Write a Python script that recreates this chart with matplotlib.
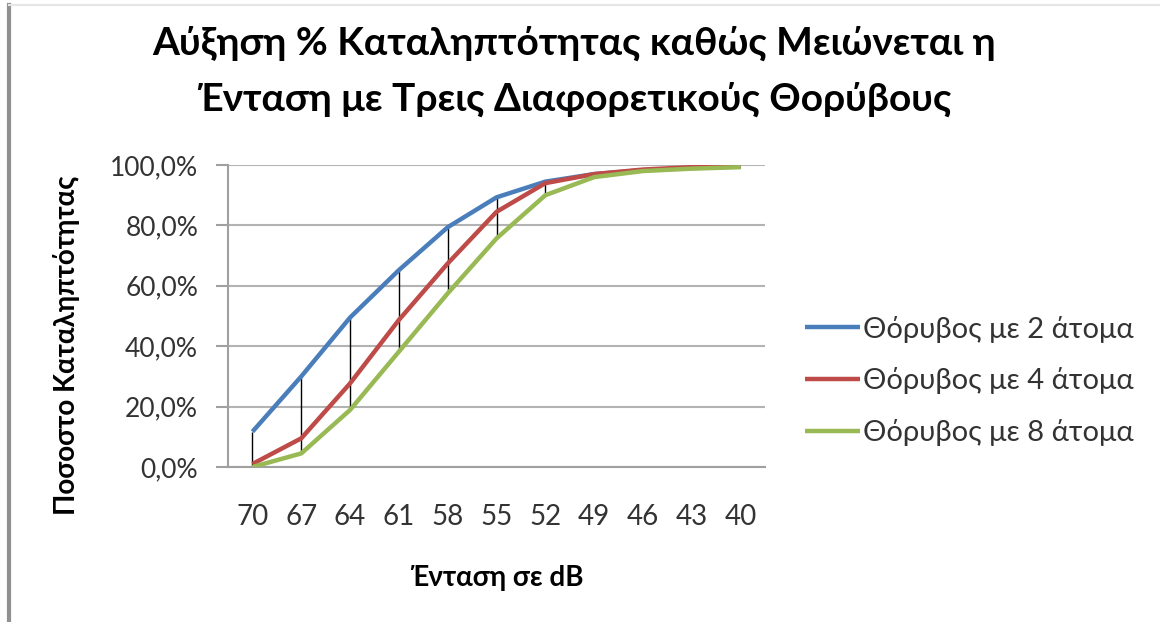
import matplotlib
matplotlib.use("Agg")
import matplotlib.pyplot as plt
from matplotlib.lines import Line2D
from matplotlib.ticker import FuncFormatter
import numpy as np

plt.rcParams['font.family'] = ['Lato', 'DejaVu Sans']

# intensity categories (dB) and detection rates (%)
intensity = ['70', '67', '64', '61', '58', '55', '52', '49', '46', '43', '40']
noise_2 = [11.7, 30.0, 49.5, 65.2, 79.4, 89.3, 94.5, 97.0, 98.3, 99.0, 99.5]
noise_4 = [1.0, 9.5, 27.7, 48.7, 67.4, 84.5, 94.0, 97.0, 98.5, 99.3, 99.5]
noise_8 = [0.0, 4.5, 18.9, 38.2, 57.5, 75.7, 90.0, 96.0, 98.0, 98.8, 99.3]
labels = ['Θόρυβος με 2 άτομα', 'Θόρυβος με 4 άτομα', 'Θόρυβος με 8 άτομα']
colors = ['#4A7EBB', '#BE4B48', '#98B954']

fig = plt.figure(figsize=(11.6, 6.22), dpi=100)
ax = fig.add_axes([0.1966, 0.2492, 0.4629, 0.4855])

x = np.arange(len(intensity))
series = [noise_2, noise_4, noise_8]

# high-low lines like Excel
allv = np.array(series)
ax.vlines(x, allv.min(axis=0), allv.max(axis=0), color='black', lw=1.0, zorder=2)

for vals, c, lab in zip(series, colors, labels):
    ax.plot(x, vals, color=c, lw=3.2, label=lab, zorder=3, solid_capstyle='butt')

ax.set_xlim(-0.5, len(intensity) - 0.5)
ax.set_ylim(0, 100)
ax.set_yticks(np.arange(0, 101, 20))
ax.yaxis.set_major_formatter(FuncFormatter(lambda v, p: f'{v:.1f}%'.replace('.', ',')))
ax.set_xticks(x)
ax.set_xticklabels(intensity)

ax.grid(axis='y', color='#b3b3b3', lw=1.5, zorder=0)
ax.set_axisbelow(True)
for s in ['top', 'right']:
    ax.spines[s].set_visible(False)
ax.spines['left'].set_color('#a0a0a0')
ax.spines['left'].set_linewidth(1.5)
ax.spines['bottom'].set_color('#a0a0a0')
ax.spines['bottom'].set_linewidth(1.5)
ax.tick_params(axis='y', direction='out', length=8.5, width=1.5, color='#a0a0a0',
               labelsize=19, labelcolor='#333333', pad=13)
ax.tick_params(axis='x', length=0, labelsize=20, labelcolor='#333333', pad=27)

ax.set_xlabel('Ένταση σε dB', fontsize=20, fontweight='bold', labelpad=25)
ax.set_ylabel('Ποσοστο Καταληπτότητας', fontsize=20, fontweight='bold')
ax.yaxis.set_label_coords(-0.275, 0.404)

fig.suptitle('Αύξηση % Καταληπτότητας καθώς Μειώνεται η\nΈνταση με Τρεις Διαφορετικούς Θορύβους',
             x=0.495, y=0.958, fontsize=28, fontweight='bold', linespacing=1.7)

fig.legend(loc='center left', bbox_to_anchor=(0.681, 0.3875), frameon=False, borderpad=0,
           fontsize=21, handlelength=1.9, handletextpad=0.1, labelspacing=0.85,
           labelcolor='#333333')

# chart border fragments
fig.add_artist(Line2D([0.008, 0.008], [0, 0.992], color='#909090', lw=3))
fig.add_artist(Line2D([0.008, 1.0], [0.992, 0.992], color='#e6e6e6', lw=1.5))

fig.savefig('out.png', dpi=100)
